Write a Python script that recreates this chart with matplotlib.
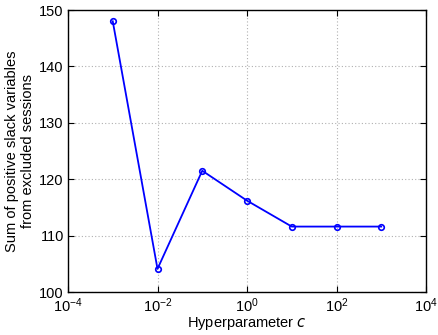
import matplotlib
matplotlib.use("Agg")
import matplotlib.pyplot as plt
from matplotlib.ticker import LogLocator, NullLocator

plt.rcParams['font.family'] = ['Liberation Sans', 'DejaVu Sans']

# data
c_values = [1e-3, 1e-2, 1e-1, 1e0, 1e1, 1e2, 1e3]
slack_sum = [148.0, 104.1, 121.5, 116.2, 111.6, 111.6, 111.6]
y_ticks = [100, 110, 120, 130, 140, 150]

fig = plt.figure(figsize=(4.38, 3.35), dpi=100)
ax = fig.add_axes([68/438, 1 - 292/335, (426-68)/438, (292-10)/335])

ax.plot(c_values, slack_sum, color='#0000ff', lw=1.3, marker='o', ms=4,
        mfc='none', mec='#0000ff', mew=1.2)

ax.set_xscale('log')
ax.set_xlim(1e-4, 1e4)
ax.set_ylim(100, 150)
ax.xaxis.set_major_locator(LogLocator(base=100))
ax.xaxis.set_minor_locator(NullLocator())
ax.set_yticks(y_ticks)

ax.grid(True, color='#b0b0b0', linestyle=(0, (1, 2)), lw=0.8)
ax.tick_params(direction='in', top=True, right=True, labelsize=10.5, length=4, pad=3)
for s in ax.spines.values():
    s.set_linewidth(1.0)

ax.set_xlabel('Hyperparameter $c$', fontsize=10.5, labelpad=0)
ax.set_ylabel('Sum of positive slack variables\nfrom excluded sessions', fontsize=10.5,
              labelpad=3, linespacing=1.2)

fig.savefig('out.png', dpi=100)
